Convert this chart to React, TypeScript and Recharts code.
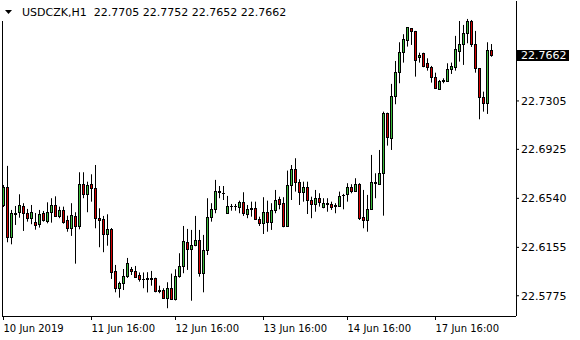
import { ComposedChart, Bar, XAxis, YAxis, ReferenceLine } from 'recharts'

// USDCZK H1 candles, left to right
const opens = [
  22.6488, 22.6627, 22.6234, 22.6417, 22.6431, 22.648, 22.6423, 22.6384, 22.6355, 22.6337,
  22.6423, 22.6362, 22.6431, 22.6486, 22.6402, 22.6447, 22.6368, 22.6305, 22.6399, 22.6321,
  22.6651, 22.6572, 22.6651, 22.6619, 22.6384, 22.6376, 22.6258, 22.63, 22.597, 22.5834,
  22.5873, 22.5927, 22.5985, 22.597, 22.5938, 22.5904, 22.5904, 22.5909, 22.5912, 22.5818,
  22.5818, 22.5755, 22.5834, 22.5747, 22.593, 22.6009, 22.6195, 22.614, 22.6174, 22.6213,
  22.5956, 22.6135, 22.6392, 22.6454, 22.6593, 22.6585, 22.6423, 22.648, 22.648, 22.6475,
  22.6514, 22.6417, 22.6459, 22.6462, 22.6376, 22.6344, 22.6435, 22.6357, 22.6447, 22.6533,
  22.6502, 22.6323, 22.6645, 22.6769, 22.6671, 22.6593, 22.6627, 22.6525, 22.6494, 22.6545,
  22.6475, 22.6498, 22.6494, 22.648, 22.6483, 22.6564, 22.6572, 22.6627, 22.66, 22.6651,
  22.6394, 22.637, 22.6454, 22.6663, 22.6651, 22.6737, 22.7208, 22.7012, 22.7344, 22.7531,
  22.7688, 22.7784, 22.7876, 22.7855, 22.7648, 22.768, 22.7601, 22.757, 22.7496, 22.7402,
  22.7465, 22.7465, 22.7554, 22.757, 22.77, 22.7753, 22.7842, 22.7933, 22.775, 22.7562,
  22.7334, 22.7287, 22.7705,
]
const highs = [
  22.6645, 22.6795, 22.6449, 22.648, 22.6572, 22.6502, 22.6457, 22.6488, 22.6425, 22.6449,
  22.6441, 22.6509, 22.6541, 22.6556, 22.6475, 22.6475, 22.6404, 22.6502, 22.6431, 22.6745,
  22.6745, 22.6671, 22.6729, 22.6802, 22.6462, 22.6402, 22.6415, 22.6307, 22.6017, 22.5886,
  22.5985, 22.6072, 22.6001, 22.6009, 22.5958, 22.5958, 22.596, 22.597, 22.5917, 22.5854,
  22.5834, 22.5881, 22.5949, 22.5983, 22.6109, 22.6323, 22.63, 22.6292, 22.6402, 22.6292,
  22.6253, 22.6541, 22.6502, 22.6685, 22.6637, 22.6637, 22.6559, 22.6496, 22.6496, 22.6522,
  22.6588, 22.6488, 22.6514, 22.6514, 22.6396, 22.6549, 22.6522, 22.6502, 22.6606, 22.6553,
  22.6549, 22.6758, 22.6802, 22.6855, 22.669, 22.6671, 22.6671, 22.6553, 22.6606, 22.658,
  22.6541, 22.6541, 22.6514, 22.6502, 22.6593, 22.6575, 22.6659, 22.6651, 22.6698, 22.6659,
  22.6606, 22.6567, 22.6881, 22.6737, 22.692, 22.7221, 22.7213, 22.7439, 22.7619, 22.7766,
  22.7829, 22.7884, 22.7876, 22.7855, 22.7684, 22.7684, 22.764, 22.758, 22.7527, 22.747,
  22.7483, 22.7601, 22.7606, 22.7816, 22.7933, 22.7902, 22.7949, 22.7941, 22.7855, 22.7564,
  22.7378, 22.7766, 22.7752,
]
const lows = [
  22.6472, 22.6195, 22.6179, 22.6331, 22.6388, 22.6284, 22.6357, 22.6337, 22.6294, 22.631,
  22.6357, 22.6344, 22.6349, 22.6394, 22.6384, 22.6341, 22.6278, 22.6245, 22.6027, 22.6297,
  22.6541, 22.6431, 22.6514, 22.6305, 22.6156, 22.6117, 22.6168, 22.5907, 22.5802, 22.576,
  22.582, 22.5915, 22.5938, 22.5915, 22.5886, 22.5834, 22.5801, 22.5854, 22.5802, 22.5795,
  22.575, 22.5677, 22.5742, 22.5738, 22.5917, 22.5952, 22.5978, 22.5736, 22.6164, 22.5925,
  22.5802, 22.6095, 22.6357, 22.6423, 22.6541, 22.6527, 22.6417, 22.6443, 22.6443, 22.6423,
  22.6402, 22.6384, 22.6396, 22.637, 22.6323, 22.626, 22.6278, 22.6292, 22.6423, 22.6454,
  22.6313, 22.6318, 22.6527, 22.6593, 22.6488, 22.6514, 22.6417, 22.6384, 22.6435, 22.6475,
  22.6462, 22.6435, 22.6449, 22.6423, 22.6475, 22.6454, 22.6514, 22.658, 22.6593, 22.637,
  22.6305, 22.6278, 22.6449, 22.6541, 22.6645, 22.6404, 22.6954, 22.692, 22.7279, 22.7444,
  22.7606, 22.7732, 22.7745, 22.7496, 22.7606, 22.757, 22.7543, 22.7449, 22.7402, 22.7397,
  22.7444, 22.7457, 22.7517, 22.7543, 22.7614, 22.7588, 22.7758, 22.7729, 22.7527, 22.7161,
  22.7221, 22.7203, 22.7652,
]
const closes = [
  22.6627, 22.6234, 22.6423, 22.6425, 22.6486, 22.6423, 22.6384, 22.6431, 22.6333, 22.642,
  22.6368, 22.6431, 22.6486, 22.6402, 22.6447, 22.6357, 22.6305, 22.6407, 22.6321, 22.6651,
  22.6572, 22.6643, 22.6619, 22.6384, 22.6373, 22.6258, 22.63, 22.5964, 22.5834, 22.5873,
  22.593, 22.603, 22.5966, 22.5925, 22.5904, 22.5907, 22.5917, 22.5911, 22.5815, 22.5816,
  22.576, 22.5834, 22.5747, 22.593, 22.6009, 22.6205, 22.614, 22.6174, 22.6213, 22.5956,
  22.6135, 22.6392, 22.6454, 22.6598, 22.6596, 22.6582, 22.648, 22.6478, 22.6483, 22.6514,
  22.6423, 22.6454, 22.6462, 22.6376, 22.6344, 22.6435, 22.6357, 22.6447, 22.6525, 22.6498,
  22.6323, 22.6645, 22.6769, 22.6671, 22.6593, 22.6627, 22.6527, 22.6494, 22.6541, 22.6514,
  22.6502, 22.65, 22.647, 22.6484, 22.6561, 22.6569, 22.6627, 22.66, 22.6651, 22.6388,
  22.637, 22.6454, 22.6666, 22.6666, 22.6737, 22.7208, 22.7025, 22.7344, 22.7531, 22.7688,
  22.7792, 22.7884, 22.7851, 22.7627, 22.7666, 22.7582, 22.757, 22.7491, 22.741, 22.7462,
  22.7466, 22.7554, 22.758, 22.7711, 22.7753, 22.7837, 22.7933, 22.775, 22.7562, 22.7334,
  22.7292, 22.7705, 22.7662,
]

const xTickIdx = [0, 22, 43, 65, 86, 108]
const xTickLabels = ['10 Jun 2019', '11 Jun 16:00', '12 Jun 16:00', '13 Jun 16:00', '14 Jun 16:00', '17 Jun 16:00']
const yTicks = [22.5775, 22.6155, 22.654, 22.6925, 22.7305]
const symbol = 'USDCZK,H1'
const lastPrice = 22.7662

const UP = '#3cbc3c'
const DOWN = '#d40000'
const FONT = 'DejaVu Sans'

const data = opens.map((o, i) => ({
  i,
  o,
  h: highs[i],
  l: lows[i],
  c: closes[i],
  range: [lows[i], highs[i]],
}))

function Candle(props: any) {
  const { x, y, width, height, payload } = props
  if (x == null || !payload) return null
  const cx = Math.round(x + width / 2) - 0.5
  const top = Math.min(y, y + height)
  const span = Math.abs(height)
  const { o, h, l, c } = payload
  const k = h === l ? 0 : span / (h - l)
  const yo = top + (h - o) * k
  const yc = top + (h - c) * k
  const bTop = Math.round(Math.min(yo, yc))
  const bBot = Math.round(Math.max(yo, yc))
  return (
    <g>
      <line x1={cx} x2={cx} y1={top} y2={top + span} stroke="#000" strokeWidth={1} />
      {bBot - bTop < 1 ? (
        <line x1={cx - 1.5} x2={cx + 1.5} y1={bTop + 0.5} y2={bTop + 0.5} stroke="#000" />
      ) : (
        <rect
          x={cx - 1}
          y={bTop + 0.5}
          width={2}
          height={bBot - bTop}
          fill={c > o ? UP : DOWN}
          stroke="#000"
          strokeWidth={1}
        />
      )}
    </g>
  )
}

function XTick(props: any) {
  const { x, y, payload } = props
  const tx = Math.round(x) - 0.5
  const n = xTickIdx.indexOf(payload.value)
  return (
    <g>
      <line x1={tx} x2={tx} y1={y - 4} y2={y} stroke="#000" />
      <text x={tx} y={y + 12} fontSize={10} fontFamily={FONT} fill="#000">
        {n >= 0 ? xTickLabels[n] : ''}
      </text>
    </g>
  )
}

function PriceTag(props: any) {
  const { viewBox } = props
  if (!viewBox) return null
  const left = viewBox.x + viewBox.width
  const yy = viewBox.y
  return (
    <g>
      <rect x={left} y={yy - 5.5} width={53} height={11} fill="#000" />
      <text x={left + 5} y={yy + 4} fontSize={11} fontFamily={FONT} fill="#fff">
        {lastPrice.toFixed(4)}
      </text>
    </g>
  )
}

export default function App() {
  return (
    <div style={{ position: 'absolute', left: 0, top: 0, width: 580, height: 340, background: '#fff' }}>
      <ComposedChart
        width={580}
        height={340}
        data={data}
        margin={{ top: 1, right: 0, bottom: 0, left: 0 }}
      >
        <XAxis
          dataKey="i"
          type="category"
          height={24}
          padding={{ left: 0, right: 22 }}
          ticks={xTickIdx}
          interval={0}
          tickSize={4}
          tickMargin={0}
          tickLine={false}
          tick={<XTick />}
          axisLine={{ stroke: '#000', shapeRendering: 'crispEdges' }}
        />
        <YAxis
          yAxisId="frame"
          orientation="left"
          width={2}
          tick={false}
          tickLine={false}
          axisLine={{ stroke: '#000', shapeRendering: 'crispEdges' }}
        />
        <YAxis
          orientation="right"
          width={64}
          type="number"
          domain={[22.5616, 22.809]}
          allowDataOverflow
          ticks={yTicks}
          interval={0}
          tickSize={3}
          tickMargin={2}
          tickFormatter={(v: number) => v.toFixed(4)}
          tick={{ fill: '#000', fontSize: 11, fontFamily: FONT }}
          tickLine={{ stroke: '#000' }}
          axisLine={{ stroke: '#000', shapeRendering: 'crispEdges' }}
        />
        <Bar dataKey="range" isAnimationActive={false} shape={(p: any) => <Candle {...p} />} />
        <ReferenceLine y={lastPrice} stroke="none" label={<PriceTag />} ifOverflow="visible" />
      </ComposedChart>
      <div style={{ position: 'absolute', left: 0, top: 0, pointerEvents: 'none' }}>
        <svg width={300} height={22}>
          <rect x={0} y={0} width={292} height={21} fill="#fff" />
          <polygon points="5,10 12,10 8.5,14" fill="#000" />
          <text x={22} y={16} fontSize={11} fontFamily={FONT} fill="#000" style={{ whiteSpace: 'pre' }}>
            {symbol + '  22.7705 22.7752 22.7652 22.7662'}
          </text>
        </svg>
      </div>
    </div>
  )
}
